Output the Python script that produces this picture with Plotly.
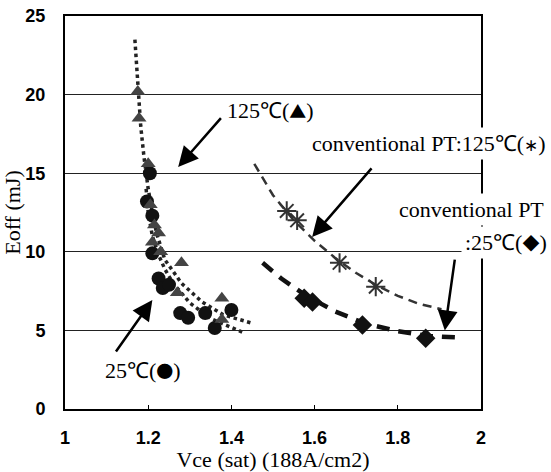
import plotly.graph_objects as go

# 125C data (triangles) and 25C data (circles)
tri_x = [1.175, 1.178, 1.200, 1.205, 1.215, 1.225, 1.210, 1.230, 1.280, 1.270, 1.377, 1.377]
tri_y = [20.2, 18.5, 15.6, 13.0, 11.7, 11.2, 10.6, 10.0, 9.3, 7.4, 7.05, 5.7]

circ_x = [1.204, 1.197, 1.210, 1.210, 1.225, 1.235, 1.250, 1.277, 1.296, 1.337, 1.360, 1.400]
circ_y = [15.0, 13.2, 12.3, 9.9, 8.3, 7.7, 7.9, 6.1, 5.8, 6.1, 5.15, 6.3]

# conventional PT
ast_x = [1.533, 1.558, 1.660, 1.747]
ast_y = [12.6, 12.0, 9.3, 7.78]
dia_x = [1.575, 1.595, 1.715, 1.867]
dia_y = [7.05, 6.8, 5.35, 4.5]

# fit curves
fitA_x = [1.168, 1.175, 1.182, 1.19, 1.20, 1.21, 1.22, 1.24, 1.28, 1.33, 1.38, 1.45]
fitA_y = [23.5, 20.5, 18.0, 16.0, 14.0, 12.5, 11.2, 9.5, 8.0, 6.8, 6.0, 5.45]
fitB_x = [1.195, 1.20, 1.21, 1.225, 1.24, 1.26, 1.30, 1.35, 1.43]
fitB_y = [14.0, 12.5, 11.0, 9.8, 8.9, 8.0, 6.75, 5.75, 4.85]
fitC_x = [1.455, 1.50, 1.55, 1.60, 1.65, 1.70, 1.75, 1.80, 1.85, 1.905]
fitC_y = [15.6, 13.6, 12.0, 10.7, 9.6, 8.65, 7.85, 7.2, 6.7, 6.35]
fitD_x = [1.475, 1.52, 1.58, 1.65, 1.72, 1.80, 1.87, 1.945]
fitD_y = [9.3, 8.3, 7.2, 6.2, 5.45, 4.95, 4.65, 4.55]

x_ticks = [1, 1.2, 1.4, 1.6, 1.8, 2]
y_ticks = [0, 5, 10, 15, 20, 25]

SERIF = "Liberation Serif, Times New Roman, serif"
SYM = "<span style=\"font-family:'Noto Sans CJK JP';font-size:17px\">%s</span>"

fig = go.Figure()
fig.add_trace(go.Scatter(x=fitA_x, y=fitA_y, mode="lines",
                         line=dict(color="#222", width=3.5, dash="dot")))
fig.add_trace(go.Scatter(x=fitB_x, y=fitB_y, mode="lines",
                         line=dict(color="#222", width=3.5, dash="dot")))
fig.add_trace(go.Scatter(x=fitC_x, y=fitC_y, mode="lines",
                         line=dict(color="#333", width=2.5, dash="9px,6px")))
fig.add_trace(go.Scatter(x=fitD_x, y=fitD_y, mode="lines",
                         line=dict(color="#111", width=4.5, dash="13px,9px")))
fig.add_trace(go.Scatter(x=circ_x, y=circ_y, mode="markers",
                         marker=dict(symbol="circle", size=14, color="#111")))
fig.add_trace(go.Scatter(x=tri_x, y=tri_y, mode="markers",
                         marker=dict(symbol="triangle-up", size=13, color="#444")))
fig.add_trace(go.Scatter(x=ast_x, y=ast_y, mode="markers",
                         marker=dict(symbol="asterisk-open", size=16, color="#333",
                                     line=dict(color="#333", width=2))))
fig.add_trace(go.Scatter(x=dia_x, y=dia_y, mode="markers",
                         marker=dict(symbol="diamond", size=15, color="#111")))

arrow = dict(xref="x", yref="y", axref="x", ayref="y", showarrow=True,
             arrowhead=2, arrowsize=1.6, arrowwidth=2.5, arrowcolor="black", text="")
ann = []
ann.append(dict(arrow, x=1.272, y=15.4, ax=1.378, ay=18.6))
ann.append(dict(arrow, x=1.21, y=6.93, ax=1.12, ay=3.56))
ann.append(dict(arrow, x=1.594, y=10.94, ax=1.74, ay=15.4))
ann.append(dict(arrow, x=1.913, y=5.0, ax=1.9375, ay=9.6))

tfont = dict(family=SERIF, size=22, color="black")
ann.append(dict(x=1.493, y=18.96, xref="x", yref="y", xanchor="center",
                text="125℃(" + SYM % "▲" + ")", showarrow=False, font=tfont))
ann.append(dict(x=1.1875, y=2.48, xref="x", yref="y", xanchor="center",
                text="25℃(" + SYM % "●" + ")", showarrow=False, font=tfont))
ann.append(dict(x=(428 - 65) / 416, y=16.92, xref="paper", yref="y", xanchor="center",
                text="conventional PT:125℃(" + SYM % "∗" + ")",
                showarrow=False, font=tfont, bgcolor="white", borderpad=3))
ann.append(dict(x=(471 - 65) / 416, y=12.66, xref="paper", yref="y", xanchor="center",
                text="conventional PT",
                showarrow=False, font=tfont, bgcolor="white", borderpad=3))
ann.append(dict(x=(506 - 65) / 416, y=10.62, xref="paper", yref="y", xanchor="center",
                text=":25℃(" + SYM % "◆" + ")",
                showarrow=False, font=tfont, bgcolor="white", borderpad=3))

tickfont = dict(family="Liberation Sans, Arial", size=18, color="black", weight="bold")
fig.update_layout(
    width=551, height=472,
    margin=dict(l=65, r=70, t=16, b=63),
    paper_bgcolor="white", plot_bgcolor="white",
    showlegend=False,
    annotations=ann,
    xaxis=dict(range=[1, 2], tickvals=x_ticks, showgrid=False, zeroline=False,
               automargin=False,
               showline=True, linecolor="black", linewidth=2, mirror=True,
               ticks="inside", ticklen=4, tickcolor="black",
               tickfont=tickfont, ticklabelstandoff=11,
               title=dict(text="Vce (sat) (188A/cm2)", font=tfont, standoff=3)),
    yaxis=dict(range=[0, 25], tickvals=y_ticks, showgrid=True, gridcolor="#222", gridwidth=1,
               zeroline=False, automargin=False,
               showline=True, linecolor="black", linewidth=2, mirror=True,
               ticks="", tickcolor="black",
               tickfont=tickfont, ticklabelstandoff=14,
               title=dict(text="Eoff (mJ)", font=tfont, standoff=0)),
)

fig.write_html("out.html", config={"displayModeBar": False},
               post_script="document.body.style.margin='0';")
